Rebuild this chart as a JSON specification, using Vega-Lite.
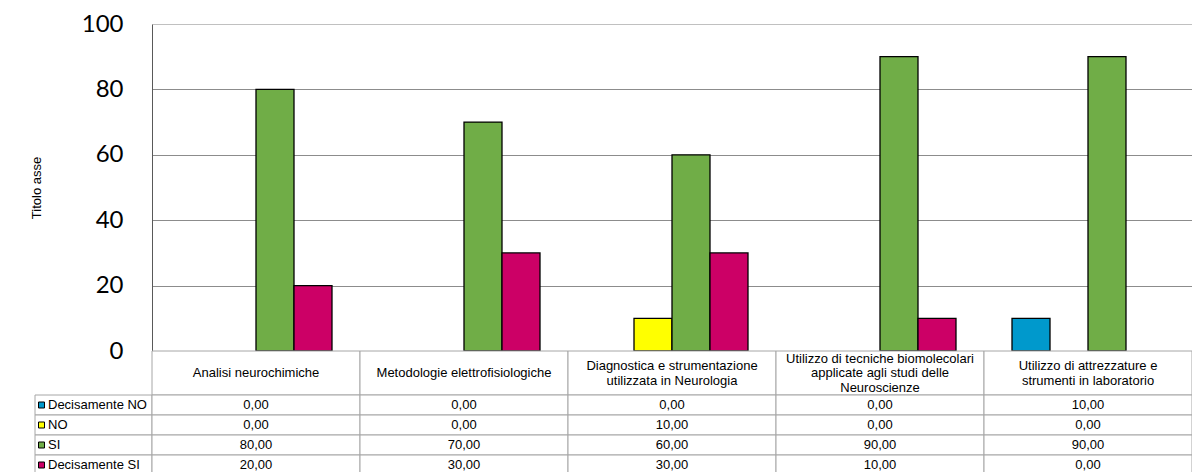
{
  "$schema": "https://vega.github.io/schema/vega-lite/v6.json",
  "background": "white",
  "padding": {"left": 30, "top": 12, "right": 0, "bottom": 0},
  "config": {
    "view": {"stroke": null},
    "locale": {"number": {"decimal": ",", "thousands": ".", "grouping": [3], "currency": ["€", ""]}}
  },
  "datasets": {
    "data": [
      {"cat": "Analisi neurochimiche", "serie": "Decisamente NO", "value": 0},
      {"cat": "Analisi neurochimiche", "serie": "NO", "value": 0},
      {"cat": "Analisi neurochimiche", "serie": "SI", "value": 80},
      {"cat": "Analisi neurochimiche", "serie": "Decisamente SI", "value": 20},
      {"cat": "Metodologie elettrofisiologiche", "serie": "Decisamente NO", "value": 0},
      {"cat": "Metodologie elettrofisiologiche", "serie": "NO", "value": 0},
      {"cat": "Metodologie elettrofisiologiche", "serie": "SI", "value": 70},
      {"cat": "Metodologie elettrofisiologiche", "serie": "Decisamente SI", "value": 30},
      {"cat": "Diagnostica e strumentazione utilizzata in Neurologia", "serie": "Decisamente NO", "value": 0},
      {"cat": "Diagnostica e strumentazione utilizzata in Neurologia", "serie": "NO", "value": 10},
      {"cat": "Diagnostica e strumentazione utilizzata in Neurologia", "serie": "SI", "value": 60},
      {"cat": "Diagnostica e strumentazione utilizzata in Neurologia", "serie": "Decisamente SI", "value": 30},
      {"cat": "Utilizzo di tecniche biomolecolari applicate agli studi delle Neuroscienze", "serie": "Decisamente NO", "value": 0},
      {"cat": "Utilizzo di tecniche biomolecolari applicate agli studi delle Neuroscienze", "serie": "NO", "value": 0},
      {"cat": "Utilizzo di tecniche biomolecolari applicate agli studi delle Neuroscienze", "serie": "SI", "value": 90},
      {"cat": "Utilizzo di tecniche biomolecolari applicate agli studi delle Neuroscienze", "serie": "Decisamente SI", "value": 10},
      {"cat": "Utilizzo di attrezzature e strumenti in laboratorio", "serie": "Decisamente NO", "value": 10},
      {"cat": "Utilizzo di attrezzature e strumenti in laboratorio", "serie": "NO", "value": 0},
      {"cat": "Utilizzo di attrezzature e strumenti in laboratorio", "serie": "SI", "value": 90},
      {"cat": "Utilizzo di attrezzature e strumenti in laboratorio", "serie": "Decisamente SI", "value": 0}
    ],
    "header": [
      {"cat": "Analisi neurochimiche", "label": "Analisi neurochimiche"},
      {"cat": "Metodologie elettrofisiologiche", "label": "Metodologie elettrofisiologiche"},
      {"cat": "Diagnostica e strumentazione utilizzata in Neurologia", "label": "Diagnostica e strumentazione\nutilizzata in Neurologia"},
      {"cat": "Utilizzo di tecniche biomolecolari applicate agli studi delle Neuroscienze", "label": "Utilizzo di tecniche biomolecolari\napplicate agli studi delle\nNeuroscienze"},
      {"cat": "Utilizzo di attrezzature e strumenti in laboratorio", "label": "Utilizzo di attrezzature e\nstrumenti in laboratorio"}
    ],
    "series": [
      {"serie": "Decisamente NO"},
      {"serie": "NO"},
      {"serie": "SI"},
      {"serie": "Decisamente SI"}
    ]
  },
  "columns": 2,
  "spacing": {"row": 0, "column": 0},
  "bounds": "flush",
  "concat": [
    {
      "width": 117,
      "height": 327,
      "data": {"values": [{}]},
      "mark": {"type": "point", "opacity": 0},
      "encoding": {}
    },
    {
      "width": 1040,
      "height": 327,
      "data": {"name": "data"},
      "transform": [{"filter": "datum.value > 0"}],
      "mark": {"type": "bar", "stroke": "#000000", "strokeWidth": 1.3},
      "encoding": {
        "x": {
          "field": "cat",
          "type": "nominal",
          "scale": {
            "domain": ["Analisi neurochimiche", "Metodologie elettrofisiologiche", "Diagnostica e strumentazione utilizzata in Neurologia", "Utilizzo di tecniche biomolecolari applicate agli studi delle Neuroscienze", "Utilizzo di attrezzature e strumenti in laboratorio"],
            "paddingInner": 0,
            "paddingOuter": 0
          },
          "axis": null
        },
        "xOffset": {
          "field": "serie",
          "type": "nominal",
          "scale": {"domain": ["Decisamente NO", "NO", "SI", "Decisamente SI"], "paddingInner": 0, "paddingOuter": 0.737}
        },
        "y": {
          "field": "value",
          "type": "quantitative",
          "scale": {"domain": [0, 100]},
          "axis": {
            "values": [0, 20, 40, 60, 80, 100],
            "title": "Titolo asse",
            "titleFont": "Liberation Sans",
            "titleFontSize": 13,
            "titleFontWeight": "normal",
            "titleColor": "#000000",
            "titlePadding": 38,
            "labelFont": "Lato",
            "labelFontSize": 24,
            "labelColor": "#000000",
            "labelPadding": 29,
            "ticks": false,
            "tickSize": 0,
            "domainColor": "#595959",
            "grid": true,
            "gridColor": {"condition": {"test": "datum.value == 100", "value": "#c0c0c0"}, "value": "#8c8c8c"},
            "gridWidth": 1
          }
        },
        "color": {
          "field": "serie",
          "type": "nominal",
          "scale": {"domain": ["Decisamente NO", "NO", "SI", "Decisamente SI"], "range": ["#0099CC", "#FFFF00", "#70AD47", "#CC0066"]},
          "legend": null
        }
      }
    },
    {
      "width": 117,
      "height": 44,
      "data": {"values": [{}]},
      "mark": {"type": "point", "opacity": 0},
      "encoding": {}
    },
    {
      "width": 1040,
      "height": 44,
      "data": {"name": "header"},
      "encoding": {
        "x": {
          "field": "cat",
          "type": "nominal",
          "scale": {
            "domain": ["Analisi neurochimiche", "Metodologie elettrofisiologiche", "Diagnostica e strumentazione utilizzata in Neurologia", "Utilizzo di tecniche biomolecolari applicate agli studi delle Neuroscienze", "Utilizzo di attrezzature e strumenti in laboratorio"],
            "paddingInner": 0,
            "paddingOuter": 0
          },
          "axis": null
        }
      },
      "layer": [
        {"mark": {"type": "rect", "fill": "white", "stroke": "#a6a6a6", "strokeWidth": 1}},
        {
          "transform": [{"filter": "indexof(datum.label, '\\n') < 0"}],
          "mark": {"type": "text", "baseline": "middle", "font": "Liberation Sans", "fontSize": 13, "color": "#000000", "lineBreak": "\n", "lineHeight": 14.5, "dy": 0},
          "encoding": {"text": {"field": "label"}}
        },
        {
          "transform": [{"filter": "length(split(datum.label, '\\n')) == 2"}],
          "mark": {"type": "text", "baseline": "middle", "font": "Liberation Sans", "fontSize": 13, "color": "#000000", "lineBreak": "\n", "lineHeight": 14.5, "dy": -7},
          "encoding": {"text": {"field": "label"}}
        },
        {
          "transform": [{"filter": "length(split(datum.label, '\\n')) == 3"}],
          "mark": {"type": "text", "baseline": "middle", "font": "Liberation Sans", "fontSize": 13, "color": "#000000", "lineBreak": "\n", "lineHeight": 14.5, "dy": -14.5},
          "encoding": {"text": {"field": "label"}}
        }
      ]
    },
    {
      "width": 117,
      "height": 80,
      "data": {"name": "series"},
      "encoding": {
        "y": {
          "field": "serie",
          "type": "nominal",
          "scale": {"domain": ["Decisamente NO", "NO", "SI", "Decisamente SI"], "paddingInner": 0, "paddingOuter": 0},
          "axis": null
        }
      },
      "layer": [
        {"mark": {"type": "rect", "fill": "white", "stroke": "#a6a6a6", "strokeWidth": 1}},
        {
          "mark": {"type": "point", "shape": "square", "filled": true, "size": 36, "stroke": "#000000", "strokeWidth": 1, "opacity": 1},
          "encoding": {
            "x": {"value": 6.5},
            "color": {
              "field": "serie",
              "type": "nominal",
              "scale": {"domain": ["Decisamente NO", "NO", "SI", "Decisamente SI"], "range": ["#0099CC", "#FFFF00", "#70AD47", "#CC0066"]},
              "legend": null
            }
          }
        },
        {
          "mark": {"type": "text", "align": "left", "baseline": "middle", "font": "Liberation Sans", "fontSize": 13, "color": "#000000"},
          "encoding": {"x": {"value": 13}, "text": {"field": "serie"}}
        }
      ]
    },
    {
      "width": 1040,
      "height": 80,
      "data": {"name": "data"},
      "encoding": {
        "x": {
          "field": "cat",
          "type": "nominal",
          "scale": {
            "domain": ["Analisi neurochimiche", "Metodologie elettrofisiologiche", "Diagnostica e strumentazione utilizzata in Neurologia", "Utilizzo di tecniche biomolecolari applicate agli studi delle Neuroscienze", "Utilizzo di attrezzature e strumenti in laboratorio"],
            "paddingInner": 0,
            "paddingOuter": 0
          },
          "axis": null
        },
        "y": {
          "field": "serie",
          "type": "nominal",
          "scale": {"domain": ["Decisamente NO", "NO", "SI", "Decisamente SI"], "paddingInner": 0, "paddingOuter": 0},
          "axis": null
        }
      },
      "layer": [
        {"mark": {"type": "rect", "fill": "white", "stroke": "#a6a6a6", "strokeWidth": 1}},
        {
          "mark": {"type": "text", "baseline": "middle", "font": "Liberation Sans", "fontSize": 13, "color": "#000000"},
          "encoding": {"text": {"field": "value", "type": "quantitative", "format": ".2f"}}
        }
      ]
    }
  ]
}
